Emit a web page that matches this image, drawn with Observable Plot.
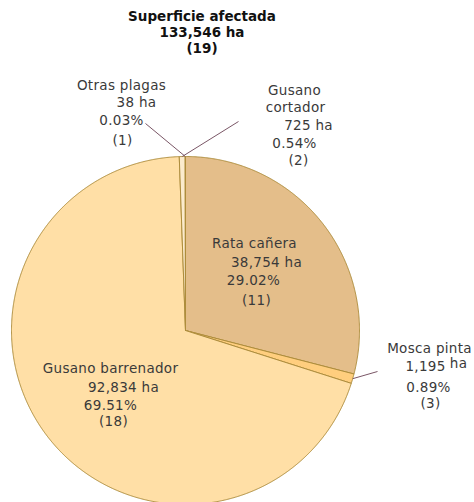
<!DOCTYPE html>
<html><head><meta charset="utf-8">
<script src="https://cdn.jsdelivr.net/npm/d3@7"></script>
<script src="https://cdn.jsdelivr.net/npm/@observablehq/plot@0.6"></script>
<style>
body{margin:0;background:#fff;}
#title{width:404px;height:60px;padding-top:8px;box-sizing:border-box;text-align:center;font:bold 13.5px "DejaVu Sans",sans-serif;line-height:16px;color:#111;}
#chart svg{display:block;}
</style></head><body>
<div id="title"></div><div id="chart"></div>
<script>
// ---- data ----
const categories = ["Rata cañera", "Mosca pinta", "Gusano barrenador", "Gusano cortador", "Otras plagas"];
const hectares = [38754, 1195, 92834, 725, 38];
const percents = ["29.02%", "0.89%", "69.51%", "0.54%", "0.03%"];
const counts = [11, 3, 18, 2, 1];
const titleLines = ["Superficie afectada", "133,546 ha", "(19)"];
const colors = ["#E4BE8A", "#FFCE7E", "#FFDFA6", "#FBEBCD", "#FFF4DE"];

// ---- layout (style only) ----
const R = 174;
// label line centers in pixels relative to pie center (x right, y up)
const labelLayout = {
  "Rata cañera": {name: [[69, 87]], ha: [[81, 68]], pct: [68, 50], cnt: [71, 30]},
  "Mosca pinta": {name: [[244, -18]], ha: [[240, -36]], haUnit: [273, -33], pct: [243, -57], cnt: [245, -73]},
  "Gusano barrenador": {name: [[-75, -38]], ha: [[-62, -57]], pct: [-75, -75], cnt: [-72, -91]},
  "Gusano cortador": {name: [[109, 240], [110, 223]], ha: [[123, 205]], pct: [109, 187], cnt: [113, 170]},
  "Otras plagas": {name: [[-64, 245]], ha: [[-49, 228]], pct: [-64, 210], cnt: [-63, 190]}
};
const leaderEnds = {"Otras plagas": [-40, 207], "Gusano cortador": [53, 209], "Mosca pinta": [192, -41]};

document.getElementById("title").innerHTML = titleLines.join("<br>");

const fmt = d3.format(",");
const rows = categories.map((c, i) => ({name: c, value: hectares[i], pct: percents[i], cnt: counts[i], color: colors[i]}));
const arcs = d3.pie().sort(null).value(d => d.value)(rows);

// slice outlines computed from the pie angles
const slicePts = [];
for (const a of arcs) {
  const n = Math.max(2, Math.ceil((a.endAngle - a.startAngle) / 0.005));
  slicePts.push({name: a.data.name, x: 0, y: 0});
  for (let k = 0; k <= n; k++) {
    const t = a.startAngle + (a.endAngle - a.startAngle) * k / n;
    slicePts.push({name: a.data.name, x: R * Math.sin(t), y: R * Math.cos(t)});
  }
  slicePts.push({name: a.data.name, x: 0, y: 0});
}

// leader lines
const leaders = [];
for (const a of arcs) {
  const e = leaderEnds[a.data.name];
  if (!e) continue;
  const m = (a.startAngle + a.endAngle) / 2;
  leaders.push({x1: R * Math.sin(m), y1: R * Math.cos(m), x2: e[0], y2: e[1]});
}

// labels
const labels = [];
for (const r of rows) {
  const L = labelLayout[r.name];
  const nameParts = L.name.length > 1 ? r.name.split(" ") : [r.name];
  nameParts.forEach((t, j) => labels.push({x: L.name[j][0], y: L.name[j][1], text: t}));
  if (L.haUnit) {
    labels.push({x: L.ha[0][0], y: L.ha[0][1], text: fmt(r.value)});
    labels.push({x: L.haUnit[0], y: L.haUnit[1], text: "ha"});
  } else {
    labels.push({x: L.ha[0][0], y: L.ha[0][1], text: fmt(r.value) + " ha"});
  }
  labels.push({x: L.pct[0], y: L.pct[1], text: r.pct});
  labels.push({x: L.cnt[0], y: L.cnt[1], text: `(${r.cnt})`});
}

const chart = Plot.plot({
  width: 474,
  height: 442,
  margin: 0,
  x: {domain: [-185, 289], axis: null},
  y: {domain: [-172, 270], axis: null},
  color: {domain: categories, range: colors},
  style: {fontFamily: "'DejaVu Sans', sans-serif", background: "#fff", letterSpacing: "0.3px"},
  marks: [
    Plot.line(slicePts, {x: "x", y: "y", z: "name", fill: "name", stroke: "#AE8D3C", strokeWidth: 1, strokeLinejoin: "round"}),
    Plot.link(leaders, {x1: "x1", y1: "y1", x2: "x2", y2: "y2", stroke: "#7A5666", strokeWidth: 1}),
    Plot.text(labels, {x: "x", y: "y", text: "text", textAnchor: "middle", fontSize: 13.5, fill: "#3a3a3a"})
  ]
});
document.getElementById("chart").appendChild(chart);
</script>
</body></html>
